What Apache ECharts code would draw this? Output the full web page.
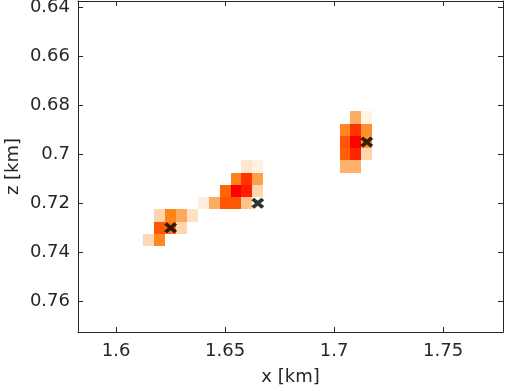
<!DOCTYPE html>
<html>
<head>
<meta charset="utf-8">
<script src="https://cdn.jsdelivr.net/npm/echarts@6/dist/echarts.min.js"></script>
<style>html,body{margin:0;padding:0;background:#fff;}#c{width:506px;height:391px;}</style>
</head>
<body>
<div id="c"></div>
<script>
// grid cell centres (km) and intensity (0..1)
const cellX = [
  1.710, 1.715,
  1.705, 1.710, 1.715,
  1.705, 1.710, 1.715,
  1.705, 1.710, 1.715,
  1.705, 1.710,
  1.660, 1.665,
  1.655, 1.660, 1.665,
  1.650, 1.655, 1.660, 1.665,
  1.640, 1.645, 1.650, 1.655, 1.660,
  1.620, 1.625, 1.630, 1.635,
  1.620, 1.625, 1.630,
  1.615, 1.620
];
const cellZ = [
  0.685, 0.685,
  0.690, 0.690, 0.690,
  0.695, 0.695, 0.695,
  0.700, 0.700, 0.700,
  0.705, 0.705,
  0.705, 0.705,
  0.710, 0.710, 0.710,
  0.715, 0.715, 0.715, 0.715,
  0.720, 0.720, 0.720, 0.720, 0.720,
  0.725, 0.725, 0.725, 0.725,
  0.730, 0.730, 0.730,
  0.735, 0.735
];
const cellValue = [
  0.38, 0.03,
  0.55, 0.86, 0.52,
  0.76, 1.00, 0.50,
  0.72, 0.90, 0.20,
  0.36, 0.36,
  0.10, 0.04,
  0.58, 0.86, 0.45,
  0.70, 1.00, 0.92, 0.20,
  0.06, 0.38, 0.76, 0.76, 0.28,
  0.20, 0.58, 0.40, 0.14,
  0.76, 0.65, 0.20,
  0.18, 0.55
];
const cellSize = 0.005;
// true source locations (x markers)
const markerX = [1.715, 1.665, 1.625];
const markerZ = [0.695, 0.720, 0.730];
// axes
const xMin = 1.5825, xMax = 1.7775;
const zMin = 0.6375, zMax = 0.7725;
const xTicks = [1.60, 1.65, 1.70, 1.75];
const zTicks = [0.64, 0.66, 0.68, 0.70, 0.72, 0.74, 0.76];

const font = 'DejaVu Sans';
const ink = '#262626';
const fmt = v => String(+(+v).toFixed(3));

const cells = cellX.map((x, i) => [x, cellZ[i], cellValue[i]]);
const markers = markerX.map((x, i) => [x, markerZ[i]]);

function mkX(pos, show) {
  return {
    type: 'value', min: xMin, max: xMax, position: pos,
    axisLine: { show: true, onZero: false, lineStyle: { color: ink, width: 1 } },
    axisTick: { show: true, inside: true, length: 5, customValues: xTicks, lineStyle: { color: ink } },
    axisLabel: { show: show, customValues: xTicks, formatter: fmt, fontFamily: font, fontSize: 18, color: ink, margin: 10 },
    splitLine: { show: false },
    name: show ? 'x [km]' : '', nameLocation: 'middle', nameGap: 36, nameMoveOverlap: false,
    nameTextStyle: { fontFamily: font, fontSize: 18, color: ink }
  };
}
function mkY(pos, show) {
  return {
    type: 'value', min: zMin, max: zMax, inverse: true, position: pos,
    axisLine: { show: true, onZero: false, lineStyle: { color: ink, width: 1 } },
    axisTick: { show: true, inside: true, length: 5, customValues: zTicks, lineStyle: { color: ink } },
    axisLabel: { show: show, customValues: zTicks, formatter: fmt, fontFamily: font, fontSize: 18, color: ink, margin: 8 },
    splitLine: { show: false },
    name: show ? 'z [km]' : '', nameLocation: 'middle', nameGap: 56, nameMoveOverlap: false,
    nameTextStyle: { fontFamily: font, fontSize: 18, color: ink }
  };
}

const chart = echarts.init(document.getElementById('c'), null, { renderer: 'canvas' });
chart.setOption({
  animation: false,
  backgroundColor: '#ffffff',
  grid: { left: 78, right: 3, top: 1, bottom: 59, containLabel: false, outerBoundsMode: 'none' },
  xAxis: [mkX('bottom', true), mkX('top', false)],
  yAxis: [mkY('left', true), mkY('right', false)],
  visualMap: {
    type: 'continuous', show: false, min: 0, max: 1, dimension: 2, seriesIndex: 0,
    inRange: { color: ['#fff8f0', '#fdd6ae', '#fda85a', '#fe7f12', '#ff4a00', '#ff0000'] }
  },
  series: [
    {
      type: 'custom', xAxisIndex: 0, yAxisIndex: 0, data: cells,
      renderItem: function (params, api) {
        const x = api.value(0), z = api.value(1), h = cellSize / 2;
        const p0 = api.coord([x - h, z - h]);
        const p1 = api.coord([x + h, z + h]);
        const x0 = Math.round(Math.min(p0[0], p1[0])), x1 = Math.round(Math.max(p0[0], p1[0]));
        const y0 = Math.round(Math.min(p0[1], p1[1])), y1 = Math.round(Math.max(p0[1], p1[1]));
        return { type: 'rect', shape: { x: x0, y: y0, width: x1 - x0, height: y1 - y0 },
                 style: { fill: api.visual('color') } };
      }
    },
    {
      type: 'scatter', xAxisIndex: 0, yAxisIndex: 0, data: markers,
      symbol: 'path://M0,2.2 L2.2,0 L5,2.8 L7.8,0 L10,2.2 L7.2,5 L10,7.8 L7.8,10 L5,7.2 L2.2,10 L0,7.8 L2.8,5 Z',
      symbolSize: [13, 11], itemStyle: { color: '#000000' }, z: 5
    }
  ]
});
</script>
</body>
</html>
